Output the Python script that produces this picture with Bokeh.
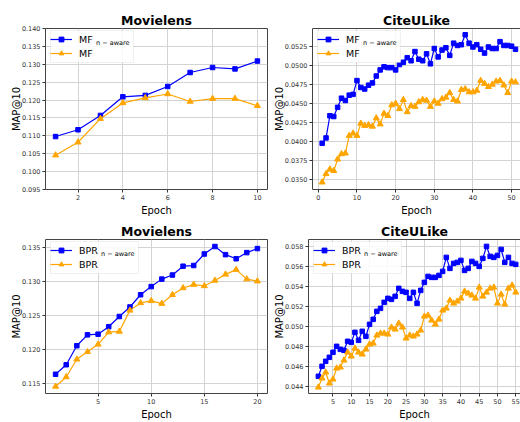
from bokeh.plotting import figure
from bokeh.models import (Range1d, FixedTicker, PrintfTickFormatter, Legend,
                          LegendItem, Label, LinearAxis, BoxAnnotation)
from bokeh.layouts import column, row
from bokeh.embed import file_html
from bokeh.resources import INLINE

FONT = "DejaVu Sans"
BLUE = "#0000ff"
ORANGE = "#ffa500"

# ---------------- data ----------------
ml_mf_epochs = list(range(1, 11))
ml_mf_aware = [0.1098, 0.1117, 0.1157, 0.1209, 0.1213, 0.1238, 0.1277, 0.1291, 0.1287, 0.1309]
ml_mf = [0.1046, 0.1082, 0.1148, 0.1192, 0.1206, 0.1217, 0.1196, 0.1204, 0.1204, 0.1184]

cu_mf_epochs = list(range(1, 52))
cu_mf_aware = [0.0398, 0.0405, 0.0434, 0.0433, 0.0445, 0.0457, 0.0454, 0.0461, 0.0462, 0.0480,
               0.0471, 0.0469, 0.0474, 0.0477, 0.0486, 0.0494, 0.0498, 0.0497, 0.0497, 0.0494,
               0.0501, 0.0504, 0.0510, 0.0506, 0.0518, 0.0508, 0.0506, 0.0515, 0.0502, 0.0522,
               0.0511, 0.0520, 0.0523, 0.0513, 0.0529, 0.0526, 0.0527, 0.0540, 0.0529, 0.0524,
               0.0527, 0.0521, 0.0516, 0.0524, 0.0522, 0.0522, 0.0531, 0.0526, 0.0526, 0.0525,
               0.0521]
cu_mf = [0.0347, 0.0358, 0.0364, 0.0362, 0.0377, 0.0384, 0.0385, 0.0408, 0.0411, 0.0408,
         0.0424, 0.0421, 0.0422, 0.0420, 0.0431, 0.0423, 0.0437, 0.0434, 0.0448, 0.0450,
         0.0443, 0.0455, 0.0439, 0.0447, 0.0446, 0.0452, 0.0455, 0.0454, 0.0446, 0.0453,
         0.0450, 0.0456, 0.0458, 0.0464, 0.0455, 0.0453, 0.0468, 0.0469, 0.0465, 0.0465,
         0.0467, 0.0480, 0.0476, 0.0472, 0.0475, 0.0479, 0.0480, 0.0474, 0.0464, 0.0479,
         0.0478]

ml_bpr_epochs = list(range(1, 21))
ml_bpr_aware = [0.1164, 0.1178, 0.1206, 0.1222, 0.1223, 0.1234, 0.1249, 0.1263, 0.1281, 0.1293,
                0.1304, 0.1310, 0.1323, 0.1324, 0.1341, 0.1352, 0.1340, 0.1334, 0.1343, 0.1349]
ml_bpr = [0.1146, 0.1160, 0.1186, 0.1197, 0.1208, 0.1226, 0.1227, 0.1258, 0.1269, 0.1272,
          0.1268, 0.1281, 0.1291, 0.1296, 0.1294, 0.1302, 0.1311, 0.1318, 0.1304, 0.1301]

cu_bpr_epochs = list(range(1, 56))
cu_bpr_aware = [0.0450, 0.0460, 0.0465, 0.0469, 0.0474, 0.0480, 0.0477, 0.0476, 0.0485, 0.0484,
                0.0494, 0.0486, 0.0495, 0.0490, 0.0502, 0.0507, 0.0515, 0.0518, 0.0524, 0.0528,
                0.0527, 0.0530, 0.0538, 0.0535, 0.0534, 0.0528, 0.0534, 0.0523, 0.0536, 0.0544,
                0.0550, 0.0549, 0.0549, 0.0551, 0.0555, 0.0569, 0.0558, 0.0563, 0.0564, 0.0566,
                0.0556, 0.0558, 0.0565, 0.0563, 0.0560, 0.0568, 0.0580, 0.0570, 0.0569, 0.0571,
                0.0577, 0.0564, 0.0569, 0.0563, 0.0562]
cu_bpr = [0.0439, 0.0448, 0.0454, 0.0443, 0.0447, 0.0458, 0.0459, 0.0466, 0.0474, 0.0470,
          0.0478, 0.0474, 0.0472, 0.0477, 0.0482, 0.0483, 0.0491, 0.0493, 0.0493, 0.0492,
          0.0499, 0.0497, 0.0503, 0.0499, 0.0488, 0.0491, 0.0490, 0.0492, 0.0496, 0.0510,
          0.0511, 0.0506, 0.0502, 0.0507, 0.0516, 0.0518, 0.0526, 0.0523, 0.0525, 0.0528,
          0.0535, 0.0533, 0.0531, 0.0528, 0.0539, 0.0530, 0.0534, 0.0538, 0.0539, 0.0523,
          0.0532, 0.0522, 0.0538, 0.0541, 0.0534]

titles = ["Movielens", "CiteULike", "Movielens", "CiteULike"]
x_label = "Epoch"
y_label = "MAP@10"
sub_text = "n \u2212 aware"


def panel(title, xs, aware, base, name, xr, yr, xticks, yticks, yfmt,
          width, height, bl, br, bt, bb, clipped, main_w, label_w):
    p = figure(width=width, height=height, output_backend="svg",
               toolbar_location=None, x_range=Range1d(*xr), y_range=Range1d(*yr),
               min_border_left=bl, min_border_right=br, min_border_top=bt,
               min_border_bottom=bb, background_fill_color="white",
               border_fill_color="white")
    p.title.text = title
    p.title.text_font = FONT
    p.title.text_font_size = "12.5px"
    p.title.text_font_style = "bold"
    p.title.align = "center"
    p.title.standoff = 2
    p.title.text_color = "black"

    for ax in (p.xaxis[0], p.yaxis[0]):
        ax.axis_label_text_font = FONT
        ax.axis_label_text_font_size = "10px"
        ax.axis_label_text_font_style = "normal"
        ax.axis_label_text_color = "black"
        ax.major_label_text_font = FONT
        ax.major_label_text_font_size = "6.5px"
        ax.major_label_text_color = "#333333"
        ax.major_label_standoff = 2
        ax.major_tick_out = 3
        ax.major_tick_in = 0
        ax.major_tick_line_color = "#333333"
        ax.minor_tick_line_color = None
        ax.axis_line_color = "#444444" if clipped else None
    p.xaxis.axis_label_standoff = 2
    p.yaxis.axis_label_standoff = -3
    p.xaxis.axis_label = x_label
    p.yaxis.axis_label = y_label
    p.xaxis.ticker = FixedTicker(ticks=xticks)
    p.yaxis.ticker = FixedTicker(ticks=yticks)
    p.yaxis.formatter = PrintfTickFormatter(format=yfmt)
    p.xgrid.ticker = FixedTicker(ticks=xticks)
    p.ygrid.ticker = FixedTicker(ticks=yticks)
    p.grid.grid_line_color = "#d3d3d3"
    p.grid.grid_line_width = 1

    if clipped:
        p.outline_line_color = None
        top = LinearAxis(ticker=FixedTicker(ticks=[]), axis_line_color="#444444",
                         major_tick_line_color=None, minor_tick_line_color=None,
                         major_label_text_font_size="0px", major_label_standoff=0,
                         major_tick_out=0, major_tick_in=0)
        p.add_layout(top, "above")
    else:
        p.outline_line_color = "#444444"
        p.outline_line_width = 1

    l1 = p.line(xs, aware, line_color=BLUE, line_width=1.2)
    s1 = p.scatter(xs, aware, marker="square", size=4.5, fill_color=BLUE,
                   line_color=BLUE)
    l2 = p.line(xs, base, line_color=ORANGE, line_width=1.2)
    s2 = p.scatter(xs, base, marker="triangle", size=6, fill_color=ORANGE,
                   line_color=ORANGE)

    frame_h = height - bt - bb
    margin, pad, gw, stand, row_h, gap = 5, 3, 22, 7, 12, 2
    box_w = pad + gw + stand + label_w + pad
    box_h = pad + row_h + gap + row_h + pad
    box = BoxAnnotation(left=margin, right=margin + box_w,
                        top=frame_h - margin, bottom=frame_h - margin - box_h,
                        left_units="screen", right_units="screen",
                        top_units="screen", bottom_units="screen",
                        fill_color="white", fill_alpha=0.85,
                        line_color="#cccccc", line_width=1, level="annotation")
    p.add_layout(box)

    leg = Legend(items=[LegendItem(label=name, renderers=[l1, s1]),
                        LegendItem(label=name, renderers=[l2, s2])],
                 location="top_left", margin=margin, padding=pad, spacing=gap,
                 glyph_width=gw, glyph_height=row_h, label_height=row_h,
                 label_width=label_w, label_standoff=stand,
                 label_text_font=FONT, label_text_font_size="9.5px",
                 label_text_color="black",
                 border_line_color=None, background_fill_alpha=0.0)
    p.add_layout(leg)

    sub = Label(x=margin + pad + gw + stand + main_w,
                y=frame_h - margin - pad - row_h / 2 - 3,
                x_units="screen", y_units="screen", text=sub_text,
                text_font=FONT, text_font_size="6.5px", text_baseline="middle",
                text_align="left", text_color="black", level="overlay")
    p.add_layout(sub)
    return p


p1 = panel(titles[0], ml_mf_epochs, ml_mf_aware, ml_mf, "MF",
           (0.55, 10.45), (0.095, 0.140), [2, 4, 6, 8, 10],
           [0.095 + 0.005 * i for i in range(10)], "%.3f",
           270, 218, 45, 3, 28, 26, False, 13.5, 48)
p2 = panel(titles[1], cu_mf_epochs, cu_mf_aware, cu_mf, "MF",
           (-1.5, 52.3), (0.03375, 0.05482), [0, 10, 20, 30, 40, 50],
           [0.035 + 0.0025 * i for i in range(8)], "%.4f",
           250, 218, 39, 0, 28, 26, True, 13.5, 48)
p3 = panel(titles[2], ml_bpr_epochs, ml_bpr_aware, ml_bpr, "BPR",
           (0.05, 20.95), (0.11357, 0.13623), [5, 10, 15, 20],
           [0.115, 0.120, 0.125, 0.130, 0.135], "%.3f",
           270, 204, 45, 3, 21, 26, False, 18.5, 53)
p4 = panel(titles[3], cu_bpr_epochs, cu_bpr_aware, cu_bpr, "BPR",
           (-1.7, 56.3), (0.04328, 0.05869), [5, 10, 15, 20, 25, 30, 35, 40, 45, 50, 55],
           [0.044 + 0.002 * i for i in range(8)], "%.3f",
           250, 204, 34, 0, 21, 26, True, 18.5, 53)

layout = column(row(p1, p2), row(p3, p4))
open("out.html", "w").write(file_html(layout, INLINE))
